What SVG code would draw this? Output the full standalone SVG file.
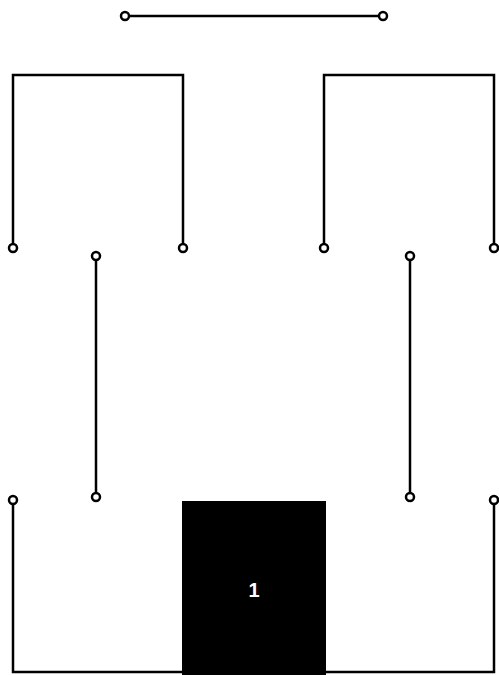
<svg xmlns="http://www.w3.org/2000/svg" width="499" height="675" viewBox="0 0 499 675">
<style>
.w{fill:none;stroke:#000;stroke-width:2.5;stroke-linejoin:miter}
.t{fill:#fff;stroke:#000;stroke-width:2.5}
.lbl{font-family:"Liberation Sans",Arial,sans-serif;font-size:20px;font-weight:bold;fill:#fff;text-anchor:middle}
</style>
<g id="connectors">
<path class="w" d="M129,16H379"/>
<path class="w" d="M13,244V75H183V244"/>
<path class="w" d="M324,244V75H494V244"/>
<path class="w" d="M96,260V493"/>
<path class="w" d="M410,260V493"/>
<path class="w" d="M13,504V672H494V504"/>
</g>
<g id="terminals">
<circle class="t" cx="125" cy="16" r="4"/>
<circle class="t" cx="383" cy="16" r="4"/>
<circle class="t" cx="13" cy="248" r="4"/>
<circle class="t" cx="183" cy="248" r="4"/>
<circle class="t" cx="324" cy="248" r="4"/>
<circle class="t" cx="494" cy="248" r="4"/>
<circle class="t" cx="96" cy="256" r="4"/>
<circle class="t" cx="410" cy="256" r="4"/>
<circle class="t" cx="96" cy="497" r="4"/>
<circle class="t" cx="410" cy="497" r="4"/>
<circle class="t" cx="13" cy="500" r="4"/>
<circle class="t" cx="494" cy="500" r="4"/>
</g>
<g id="node1">
<rect x="182" y="501" width="144" height="174" fill="#000"/>
<text class="lbl" x="254" y="597">1</text>
</g>
</svg>
